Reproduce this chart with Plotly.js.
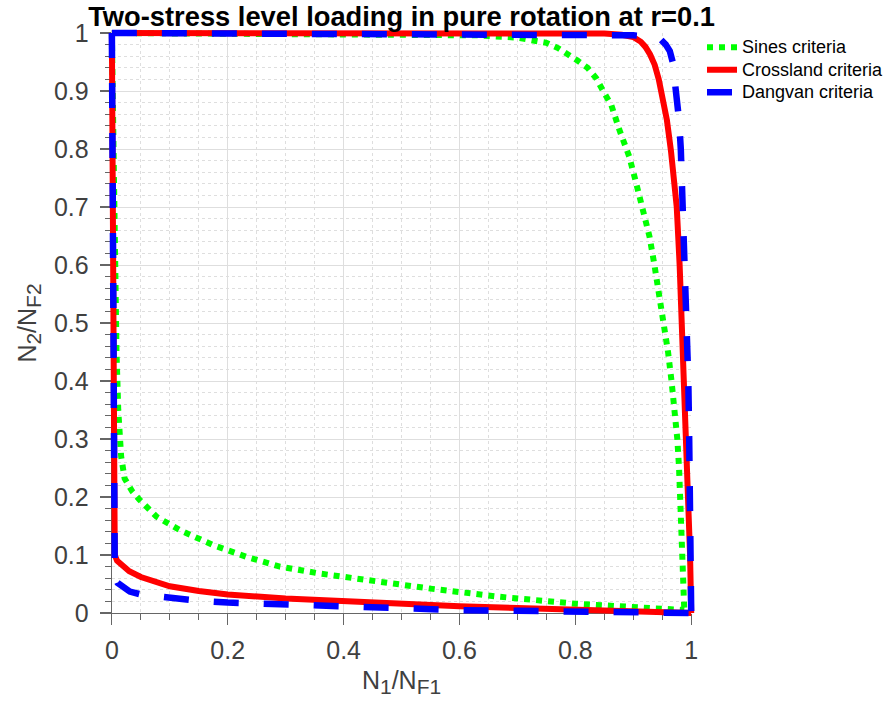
<!DOCTYPE html>
<html>
<head>
<meta charset="utf-8">
<script src="https://cdn.plot.ly/plotly-3.0.1.min.js"></script>
<style>html,body{margin:0;padding:0;background:#fff;}#chart{width:889px;height:713px;}</style>
</head>
<body>
<div id="chart"></div>
<script>
// ---- data ----
const seriesNames = ["Sines criteria", "Crossland criteria", "Dangvan criteria"];

const sinesLowerX = [0, 0.002, 0.005, 0.008, 0.011, 0.013, 0.016, 0.022, 0.035, 0.048, 0.077, 0.117, 0.175, 0.232, 0.29, 0.359, 0.456, 0.55, 0.669, 0.726, 0.8, 0.887, 0.95, 0.988];
const sinesLowerY = [1, 0.8, 0.6, 0.45, 0.35, 0.3, 0.27, 0.232, 0.21, 0.195, 0.166, 0.143, 0.117, 0.097, 0.08, 0.068, 0.054, 0.042, 0.028, 0.022, 0.016, 0.011, 0.008, 0.005];
const sinesUpperX = [0, 0.4, 0.55, 0.63, 0.7, 0.73, 0.75, 0.77, 0.786, 0.803, 0.821, 0.836, 0.848, 0.862, 0.876, 0.893, 0.905, 0.916, 0.928, 0.936, 0.945, 0.953, 0.96, 0.966, 0.972, 0.976, 0.979, 0.981, 0.983, 0.984, 0.986, 0.988];
const sinesUpperY = [1, 0.999, 0.998, 0.996, 0.992, 0.987, 0.983, 0.974, 0.965, 0.953, 0.94, 0.922, 0.9, 0.876, 0.833, 0.787, 0.741, 0.695, 0.649, 0.603, 0.55, 0.5, 0.45, 0.4, 0.35, 0.3, 0.25, 0.2, 0.15, 0.1, 0.05, 0.005];

const crossLowerX = [0, 0.002, 0.003, 0.004, 0.005, 0.009, 0.02, 0.03, 0.05, 0.075, 0.1, 0.15, 0.2, 0.3, 0.4, 0.5, 0.6, 0.7, 0.8, 0.9, 0.97, 1];
const crossLowerY = [1, 0.6, 0.3, 0.15, 0.1, 0.09, 0.08, 0.072, 0.062, 0.053, 0.046, 0.038, 0.032, 0.025, 0.02, 0.0145, 0.0115, 0.0085, 0.0055, 0.0028, 0.001, 0];
const crossUpperX = [0, 0.6, 0.85, 0.88, 0.9, 0.913, 0.921, 0.929, 0.937, 0.944, 0.95, 0.958, 0.965, 0.971, 0.975, 0.98, 0.984, 0.988, 0.992, 0.995, 0.998, 1];
const crossUpperY = [1, 1, 0.999, 0.997, 0.993, 0.985, 0.976, 0.963, 0.945, 0.92, 0.893, 0.85, 0.797, 0.75, 0.7, 0.6, 0.5, 0.4, 0.3, 0.2, 0.1, 0];

const dangLowerX = [0, 0.002, 0.004, 0.005, 0.01, 0.02, 0.031, 0.05, 0.08, 0.1, 0.15, 0.2, 0.27, 0.3, 0.37, 0.4, 0.5, 0.6, 0.7, 0.8, 0.9, 1];
const dangLowerY = [1, 0.5, 0.1, 0.065, 0.052, 0.044, 0.037, 0.032, 0.028, 0.026, 0.021, 0.018, 0.0155, 0.0145, 0.011, 0.0095, 0.007, 0.005, 0.0038, 0.0022, 0.001, 0];
const dangUpperX = [0, 0.5, 0.9, 0.935, 0.948, 0.956, 0.963, 0.968, 0.972, 0.974, 0.979, 0.982, 0.9845, 0.9855, 0.989, 0.9905, 0.993, 0.995, 0.9965, 0.998, 0.999, 1];
const dangUpperY = [1, 0.999, 0.996, 0.993, 0.988, 0.98, 0.969, 0.95, 0.92, 0.9, 0.85, 0.8, 0.73, 0.7, 0.63, 0.6, 0.5, 0.4, 0.3, 0.2, 0.1, 0];

const xTickVals = [0, 0.2, 0.4, 0.6, 0.8, 1];
const xTickText = ["0", "0.2", "0.4", "0.6", "0.8", "1"];
const yTickVals = [0, 0.1, 0.2, 0.3, 0.4, 0.5, 0.6, 0.7, 0.8, 0.9, 1];
const yTickText = ["0", "0.1", "0.2", "0.3", "0.4", "0.5", "0.6", "0.7", "0.8", "0.9", "1"];

// ---- layout geometry (pixels) ----
const W = 889, H = 713;
const L = 112, R = 692, T = 33, B = 613;
const PAD = 12;
const fx = p => p / W;
const fy = p => (H - p) / H;
const padFrac = PAD / (R - L);

const FONT = "Liberation Sans, Arial, Helvetica, sans-serif";
const colors = {sines: "#00ff00", cross: "#ff0000", dang: "#0000ff"};
const legendLabel = s => "<span style='font-size:18px'>" + s + "</span>";
const sub = s => "<sub><span style='font-size:21px'>" + s + "</span></sub>";

function tr(x, y, name, color, dash, width, show) {
  return {
    x: x, y: y, type: "scatter", mode: "lines", name: legendLabel(name),
    legendgroup: name, showlegend: show,
    line: {color: color, dash: dash, width: width},
    xaxis: "x2", yaxis: "y2", hoverinfo: "skip"
  };
}

const data = [
  // empty trace so the framed (grid/tick) axes x/y are created
  {x: [], y: [], type: "scatter", mode: "lines", showlegend: false, xaxis: "x", yaxis: "y", hoverinfo: "skip"},
  tr(sinesLowerX, sinesLowerY, seriesNames[0], colors.sines, "6px,6px", 6, true),
  tr(sinesUpperX, sinesUpperY, seriesNames[0], colors.sines, "6px,6px", 6, false),
  tr(crossLowerX, crossLowerY, seriesNames[1], colors.cross, "solid", 6, true),
  tr(crossUpperX, crossUpperY, seriesNames[1], colors.cross, "solid", 6, false),
  tr(dangLowerX, dangLowerY, seriesNames[2], colors.dang, "25px,25px", 6.5, true),
  tr(dangUpperX, dangUpperY, seriesNames[2], colors.dang, "25px,25px", 6.5, false)
];

const axisCommon = {
  range: [0, 1], showline: true, linecolor: "#666666", linewidth: 1.2,
  ticks: "outside", ticklen: 11, tickwidth: 1.2, tickcolor: "#666666",
  showgrid: true, gridcolor: "#dedede", gridwidth: 1, zeroline: false,
  tickfont: {family: FONT, size: 25, color: "#404040"},
  fixedrange: true
};

const layout = {
  width: W, height: H,
  margin: {l: 0, r: 0, t: 0, b: 0},
  paper_bgcolor: "#ffffff", plot_bgcolor: "rgba(0,0,0,0)",
  showlegend: true,
  title: {
    text: "<b>Two-stress level loading in pure rotation at r=0.1</b>",
    font: {family: FONT, size: 27.3, color: "#000000"},
    x: fx((L + R) / 2), xanchor: "center", xref: "paper",
    y: 1 - 16 / H, yanchor: "middle", yref: "container"
  },
  xaxis: Object.assign({}, axisCommon, {
    domain: [fx(L), fx(R)], anchor: "y",
    tickvals: xTickVals, ticktext: xTickText, ticklabelstandoff: 4,
    minor: {dtick: 0.05, tick0: 0, ticks: "outside", ticklen: 6, tickwidth: 1.2, tickcolor: "#666666", showgrid: true, gridcolor: "#dedede", griddash: "dot", gridwidth: 1},
    title: {text: "N" + sub("1") + "/N" + sub("F1"), font: {family: FONT, size: 25, color: "#404040"}, standoff: 8}
  }),
  yaxis: Object.assign({}, axisCommon, {
    domain: [fy(B), fy(T)], anchor: "x",
    tickvals: yTickVals, ticktext: yTickText, ticklabelstandoff: 6,
    minor: {dtick: 0.02, tick0: 0, ticks: "outside", ticklen: 6, tickwidth: 1.2, tickcolor: "#666666", showgrid: true, gridcolor: "#dedede", griddash: "dot", gridwidth: 1},
    title: {text: "N" + sub("2") + "/N" + sub("F2"), font: {family: FONT, size: 25, color: "#404040"}, standoff: 10}
  }),
  xaxis2: {
    domain: [fx(L - PAD), fx(R + PAD)], range: [-padFrac, 1 + padFrac],
    anchor: "y2", visible: false, fixedrange: true
  },
  yaxis2: {
    domain: [fy(B + PAD), fy(T - PAD)], range: [-padFrac, 1 + padFrac],
    anchor: "x2", visible: false, fixedrange: true
  },
  legend: {
    x: fx(703), xanchor: "left", y: fy(31), yanchor: "top",
    font: {family: FONT, size: 15, color: "#000000"},
    bgcolor: "rgba(0,0,0,0)", borderwidth: 0, tracegroupgap: 0,
    itemwidth: 30
  }
};

Plotly.newPlot("chart", data, layout, {staticPlot: true, displayModeBar: false});
</script>
</body>
</html>
